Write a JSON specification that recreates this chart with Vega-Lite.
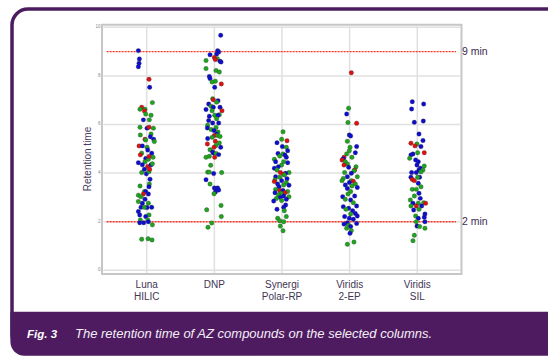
{
  "$schema": "https://vega.github.io/schema/vega-lite/v6.json",
  "width": 548,
  "height": 357,
  "autosize": {"type": "none"},
  "padding": 0,
  "background": "white",
  "config": {"view": {"stroke": null}, "font": "Liberation Sans"},
  "datasets": {
    "pts": [
      {"x":0.877,"y":9.04,"c":"B"},{"x":0.892,"y":8.70,"c":"B"},{"x":0.887,"y":8.52,"c":"B"},{"x":0.877,"y":8.38,"c":"B"},{"x":1.034,"y":7.86,"c":"R"},{"x":1.044,"y":7.53,"c":"B"},{"x":1.084,"y":6.90,"c":"G"},{"x":0.926,"y":6.71,"c":"R"},{"x":0.901,"y":6.63,"c":"G"},{"x":0.975,"y":6.63,"c":"G"},{"x":0.966,"y":6.56,"c":"R"},{"x":1.064,"y":6.38,"c":"G"},{"x":0.985,"y":6.43,"c":"G"},{"x":0.951,"y":6.19,"c":"B"},{"x":1.039,"y":6.19,"c":"G"},{"x":0.901,"y":5.89,"c":"G"},{"x":1.099,"y":5.85,"c":"G"},{"x":1.005,"y":5.85,"c":"B"},{"x":1.034,"y":5.89,"c":"R"},{"x":1.064,"y":5.61,"c":"G"},{"x":0.906,"y":5.57,"c":"G"},{"x":0.975,"y":5.39,"c":"R"},{"x":1.103,"y":5.39,"c":"B"},{"x":0.985,"y":5.36,"c":"G"},{"x":1.054,"y":5.50,"c":"B"},{"x":1.113,"y":5.30,"c":"G"},{"x":0.887,"y":5.12,"c":"R"},{"x":0.936,"y":5.12,"c":"B"},{"x":1.005,"y":5.06,"c":"G"},{"x":1.015,"y":4.95,"c":"B"},{"x":0.926,"y":4.82,"c":"G"},{"x":0.906,"y":4.75,"c":"R"},{"x":1.074,"y":4.82,"c":"B"},{"x":1.094,"y":4.65,"c":"G"},{"x":0.985,"y":4.60,"c":"B"},{"x":1.025,"y":4.57,"c":"G"},{"x":1.034,"y":4.68,"c":"R"},{"x":0.877,"y":4.43,"c":"B"},{"x":0.975,"y":4.47,"c":"G"},{"x":0.936,"y":4.34,"c":"B"},{"x":1.015,"y":4.27,"c":"R"},{"x":1.064,"y":4.34,"c":"B"},{"x":0.926,"y":4.02,"c":"G"},{"x":0.995,"y":3.97,"c":"B"},{"x":1.034,"y":4.06,"c":"G"},{"x":0.966,"y":4.16,"c":"B"},{"x":1.044,"y":4.16,"c":"R"},{"x":1.084,"y":4.38,"c":"G"},{"x":1.049,"y":3.75,"c":"B"},{"x":1.039,"y":3.55,"c":"G"},{"x":1.034,"y":3.44,"c":"B"},{"x":0.901,"y":3.47,"c":"G"},{"x":0.966,"y":3.24,"c":"G"},{"x":0.985,"y":3.24,"c":"B"},{"x":0.951,"y":3.14,"c":"R"},{"x":1.025,"y":3.14,"c":"B"},{"x":0.877,"y":3.09,"c":"G"},{"x":0.916,"y":3.03,"c":"G"},{"x":0.975,"y":2.92,"c":"B"},{"x":0.936,"y":2.76,"c":"B"},{"x":0.877,"y":2.83,"c":"G"},{"x":1.025,"y":2.76,"c":"G"},{"x":0.916,"y":2.59,"c":"B"},{"x":1.005,"y":2.58,"c":"B"},{"x":1.074,"y":2.59,"c":"B"},{"x":0.966,"y":2.59,"c":"G"},{"x":0.877,"y":2.42,"c":"B"},{"x":0.897,"y":2.28,"c":"B"},{"x":1.034,"y":2.28,"c":"G"},{"x":0.985,"y":2.21,"c":"B"},{"x":1.015,"y":2.07,"c":"G"},{"x":1.025,"y":2.00,"c":"B"},{"x":0.906,"y":2.07,"c":"G"},{"x":0.956,"y":1.96,"c":"B"},{"x":1.084,"y":1.87,"c":"G"},{"x":0.897,"y":1.96,"c":"B"},{"x":0.926,"y":1.28,"c":"G"},{"x":1.020,"y":1.30,"c":"G"},{"x":1.079,"y":1.25,"c":"G"},

      {"x":2.094,"y":9.67,"c":"B"},{"x":2.049,"y":9.04,"c":"B"},{"x":2.064,"y":8.98,"c":"B"},{"x":2.034,"y":8.90,"c":"B"},{"x":1.936,"y":8.87,"c":"B"},{"x":2.000,"y":8.76,"c":"R"},{"x":2.044,"y":8.71,"c":"G"},{"x":2.015,"y":8.67,"c":"R"},{"x":1.877,"y":8.63,"c":"G"},{"x":2.084,"y":8.60,"c":"B"},{"x":2.099,"y":8.57,"c":"B"},{"x":1.877,"y":8.30,"c":"G"},{"x":2.025,"y":8.22,"c":"G"},{"x":2.074,"y":8.16,"c":"G"},{"x":1.926,"y":7.98,"c":"B"},{"x":1.936,"y":7.89,"c":"B"},{"x":2.015,"y":7.78,"c":"G"},{"x":1.966,"y":7.75,"c":"G"},{"x":2.103,"y":7.67,"c":"R"},{"x":2.005,"y":7.53,"c":"B"},{"x":1.975,"y":7.06,"c":"G"},{"x":1.985,"y":7.02,"c":"R"},{"x":2.054,"y":6.98,"c":"B"},{"x":2.034,"y":6.92,"c":"G"},{"x":1.916,"y":6.84,"c":"B"},{"x":1.951,"y":6.75,"c":"G"},{"x":1.985,"y":6.71,"c":"B"},{"x":2.084,"y":6.71,"c":"B"},{"x":1.877,"y":6.62,"c":"B"},{"x":1.966,"y":6.57,"c":"G"},{"x":2.113,"y":6.57,"c":"R"},{"x":2.074,"y":6.40,"c":"G"},{"x":2.005,"y":6.38,"c":"G"},{"x":2.054,"y":6.38,"c":"B"},{"x":1.926,"y":6.34,"c":"B"},{"x":2.034,"y":6.24,"c":"G"},{"x":1.916,"y":6.16,"c":"B"},{"x":1.975,"y":6.06,"c":"B"},{"x":2.064,"y":6.06,"c":"B"},{"x":1.901,"y":5.97,"c":"G"},{"x":2.025,"y":5.88,"c":"G"},{"x":1.897,"y":5.86,"c":"B"},{"x":1.951,"y":5.79,"c":"G"},{"x":1.995,"y":5.75,"c":"B"},{"x":2.054,"y":5.69,"c":"G"},{"x":2.034,"y":5.61,"c":"B"},{"x":2.000,"y":5.55,"c":"R"},{"x":2.049,"y":5.55,"c":"G"},{"x":2.084,"y":5.51,"c":"G"},{"x":1.966,"y":5.47,"c":"G"},{"x":1.901,"y":5.42,"c":"B"},{"x":2.015,"y":5.31,"c":"R"},{"x":2.074,"y":5.24,"c":"G"},{"x":1.897,"y":5.20,"c":"R"},{"x":2.025,"y":5.14,"c":"G"},{"x":1.995,"y":5.06,"c":"R"},{"x":2.094,"y":5.06,"c":"B"},{"x":1.936,"y":4.96,"c":"G"},{"x":1.975,"y":4.87,"c":"B"},{"x":1.985,"y":4.83,"c":"B"},{"x":2.025,"y":4.81,"c":"G"},{"x":2.064,"y":4.76,"c":"B"},{"x":1.926,"y":4.69,"c":"G"},{"x":1.877,"y":4.65,"c":"G"},{"x":2.005,"y":4.65,"c":"R"},{"x":1.946,"y":4.32,"c":"G"},{"x":1.901,"y":4.04,"c":"G"},{"x":1.926,"y":4.04,"c":"G"},{"x":1.990,"y":3.98,"c":"B"},{"x":2.108,"y":4.02,"c":"G"},{"x":1.877,"y":3.73,"c":"B"},{"x":1.936,"y":3.55,"c":"G"},{"x":2.000,"y":3.39,"c":"B"},{"x":2.049,"y":3.39,"c":"B"},{"x":2.034,"y":3.36,"c":"B"},{"x":2.064,"y":3.30,"c":"B"},{"x":2.015,"y":3.22,"c":"B"},{"x":1.995,"y":3.15,"c":"G"},{"x":2.099,"y":2.67,"c":"G"},{"x":1.887,"y":2.49,"c":"G"},{"x":2.103,"y":2.21,"c":"G"},{"x":1.961,"y":1.95,"c":"G"},{"x":1.906,"y":1.77,"c":"G"},

      {"x":3.015,"y":5.70,"c":"G"},{"x":2.995,"y":5.39,"c":"G"},{"x":3.074,"y":5.33,"c":"R"},{"x":2.926,"y":5.25,"c":"B"},{"x":3.005,"y":5.09,"c":"B"},{"x":3.064,"y":5.06,"c":"G"},{"x":3.084,"y":4.92,"c":"B"},{"x":2.941,"y":4.81,"c":"B"},{"x":3.015,"y":4.79,"c":"G"},{"x":3.044,"y":4.74,"c":"B"},{"x":2.966,"y":4.70,"c":"G"},{"x":3.064,"y":4.65,"c":"B"},{"x":2.887,"y":4.57,"c":"G"},{"x":2.906,"y":4.47,"c":"B"},{"x":3.025,"y":4.47,"c":"G"},{"x":3.084,"y":4.43,"c":"B"},{"x":2.995,"y":4.33,"c":"G"},{"x":2.946,"y":4.26,"c":"B"},{"x":2.887,"y":4.20,"c":"B"},{"x":2.926,"y":4.13,"c":"G"},{"x":2.975,"y":4.02,"c":"R"},{"x":3.103,"y":4.02,"c":"G"},{"x":3.054,"y":3.99,"c":"B"},{"x":3.020,"y":3.96,"c":"R"},{"x":3.034,"y":3.92,"c":"G"},{"x":2.906,"y":3.85,"c":"B"},{"x":2.966,"y":3.83,"c":"G"},{"x":3.074,"y":3.77,"c":"B"},{"x":2.897,"y":3.72,"c":"G"},{"x":2.995,"y":3.69,"c":"B"},{"x":2.887,"y":3.65,"c":"R"},{"x":3.064,"y":3.61,"c":"G"},{"x":2.936,"y":3.55,"c":"B"},{"x":3.025,"y":3.51,"c":"G"},{"x":3.103,"y":3.50,"c":"B"},{"x":2.956,"y":3.44,"c":"B"},{"x":2.906,"y":3.33,"c":"G"},{"x":2.966,"y":3.28,"c":"R"},{"x":3.015,"y":3.28,"c":"B"},{"x":3.084,"y":3.24,"c":"G"},{"x":2.897,"y":3.19,"c":"B"},{"x":3.044,"y":3.19,"c":"R"},{"x":2.985,"y":3.17,"c":"G"},{"x":2.946,"y":3.10,"c":"G"},{"x":3.025,"y":3.06,"c":"B"},{"x":3.103,"y":3.03,"c":"G"},{"x":2.975,"y":3.00,"c":"B"},{"x":2.916,"y":2.95,"c":"G"},{"x":3.064,"y":2.92,"c":"B"},{"x":2.995,"y":2.87,"c":"G"},{"x":2.877,"y":2.85,"c":"B"},{"x":3.054,"y":2.69,"c":"B"},{"x":3.025,"y":2.59,"c":"B"},{"x":2.926,"y":2.51,"c":"B"},{"x":3.034,"y":2.45,"c":"G"},{"x":3.064,"y":2.21,"c":"G"},{"x":2.936,"y":2.14,"c":"G"},{"x":2.966,"y":2.04,"c":"G"},{"x":3.025,"y":2.00,"c":"G"},{"x":2.975,"y":1.82,"c":"G"},{"x":3.015,"y":1.63,"c":"G"},

      {"x":4.025,"y":8.13,"c":"R"},{"x":3.985,"y":6.67,"c":"G"},{"x":3.956,"y":6.43,"c":"B"},{"x":3.975,"y":6.08,"c":"G"},{"x":4.103,"y":6.05,"c":"R"},{"x":3.995,"y":5.57,"c":"B"},{"x":4.015,"y":5.53,"c":"B"},{"x":3.966,"y":5.31,"c":"G"},{"x":4.005,"y":5.06,"c":"G"},{"x":4.103,"y":5.09,"c":"B"},{"x":3.995,"y":4.92,"c":"G"},{"x":4.084,"y":4.84,"c":"B"},{"x":3.956,"y":4.79,"c":"G"},{"x":4.034,"y":4.65,"c":"G"},{"x":3.916,"y":4.65,"c":"R"},{"x":3.906,"y":4.59,"c":"B"},{"x":3.887,"y":4.54,"c":"R"},{"x":3.936,"y":4.47,"c":"G"},{"x":3.966,"y":4.37,"c":"G"},{"x":3.916,"y":4.33,"c":"R"},{"x":4.094,"y":4.26,"c":"G"},{"x":3.985,"y":4.24,"c":"B"},{"x":4.074,"y":4.13,"c":"R"},{"x":4.064,"y":4.10,"c":"G"},{"x":3.926,"y":4.02,"c":"G"},{"x":4.025,"y":3.99,"c":"B"},{"x":3.966,"y":3.85,"c":"B"},{"x":4.113,"y":3.85,"c":"G"},{"x":3.906,"y":3.78,"c":"G"},{"x":4.025,"y":3.69,"c":"G"},{"x":3.887,"y":3.69,"c":"G"},{"x":4.054,"y":3.66,"c":"R"},{"x":3.995,"y":3.61,"c":"B"},{"x":4.084,"y":3.55,"c":"G"},{"x":3.936,"y":3.51,"c":"B"},{"x":4.034,"y":3.47,"c":"G"},{"x":4.113,"y":3.41,"c":"B"},{"x":3.966,"y":3.37,"c":"B"},{"x":4.015,"y":3.24,"c":"G"},{"x":3.975,"y":3.14,"c":"G"},{"x":4.074,"y":3.06,"c":"B"},{"x":3.897,"y":3.03,"c":"B"},{"x":3.936,"y":2.92,"c":"G"},{"x":4.015,"y":2.89,"c":"B"},{"x":4.054,"y":2.78,"c":"G"},{"x":4.103,"y":2.65,"c":"B"},{"x":3.906,"y":2.62,"c":"B"},{"x":3.985,"y":2.55,"c":"B"},{"x":3.946,"y":2.51,"c":"G"},{"x":4.044,"y":2.45,"c":"B"},{"x":4.084,"y":2.34,"c":"B"},{"x":4.015,"y":2.32,"c":"G"},{"x":4.113,"y":2.23,"c":"B"},{"x":3.926,"y":2.21,"c":"B"},{"x":3.995,"y":2.14,"c":"B"},{"x":4.054,"y":2.10,"c":"B"},{"x":3.966,"y":1.96,"c":"B"},{"x":4.103,"y":1.93,"c":"B"},{"x":3.916,"y":1.90,"c":"B"},{"x":3.985,"y":1.85,"c":"G"},{"x":4.015,"y":1.80,"c":"B"},{"x":3.956,"y":1.73,"c":"G"},{"x":4.025,"y":1.63,"c":"G"},{"x":4.005,"y":1.52,"c":"B"},{"x":4.064,"y":1.16,"c":"G"},{"x":3.966,"y":1.07,"c":"G"},

      {"x":4.926,"y":6.94,"c":"B"},{"x":5.094,"y":6.84,"c":"B"},{"x":4.916,"y":6.64,"c":"B"},{"x":5.089,"y":6.14,"c":"B"},{"x":4.956,"y":6.09,"c":"B"},{"x":5.025,"y":5.61,"c":"B"},{"x":5.084,"y":5.34,"c":"B"},{"x":4.906,"y":5.23,"c":"R"},{"x":4.995,"y":5.20,"c":"G"},{"x":4.966,"y":5.12,"c":"R"},{"x":5.054,"y":5.09,"c":"B"},{"x":5.005,"y":4.84,"c":"G"},{"x":5.103,"y":4.84,"c":"R"},{"x":4.936,"y":4.79,"c":"B"},{"x":4.906,"y":4.75,"c":"B"},{"x":4.887,"y":4.61,"c":"G"},{"x":4.975,"y":4.54,"c":"B"},{"x":5.015,"y":4.47,"c":"B"},{"x":4.995,"y":4.33,"c":"B"},{"x":5.103,"y":4.29,"c":"G"},{"x":5.044,"y":4.20,"c":"B"},{"x":5.025,"y":4.13,"c":"B"},{"x":5.084,"y":4.13,"c":"G"},{"x":5.054,"y":4.05,"c":"G"},{"x":4.916,"y":4.02,"c":"B"},{"x":4.985,"y":4.02,"c":"B"},{"x":5.034,"y":3.83,"c":"B"},{"x":4.906,"y":3.83,"c":"B"},{"x":5.005,"y":3.83,"c":"G"},{"x":4.926,"y":3.74,"c":"R"},{"x":4.956,"y":3.69,"c":"R"},{"x":5.015,"y":3.58,"c":"B"},{"x":5.054,"y":3.44,"c":"G"},{"x":4.926,"y":3.33,"c":"G"},{"x":4.985,"y":3.33,"c":"G"},{"x":5.025,"y":3.17,"c":"B"},{"x":4.956,"y":3.06,"c":"G"},{"x":5.044,"y":2.96,"c":"B"},{"x":4.897,"y":2.89,"c":"G"},{"x":5.094,"y":2.78,"c":"G"},{"x":4.936,"y":2.76,"c":"B"},{"x":5.015,"y":2.76,"c":"G"},{"x":5.123,"y":2.76,"c":"R"},{"x":4.985,"y":2.65,"c":"R"},{"x":5.064,"y":2.65,"c":"B"},{"x":4.906,"y":2.65,"c":"G"},{"x":5.025,"y":2.51,"c":"G"},{"x":4.946,"y":2.48,"c":"B"},{"x":5.113,"y":2.32,"c":"B"},{"x":4.975,"y":2.23,"c":"G"},{"x":5.103,"y":2.18,"c":"B"},{"x":5.015,"y":2.14,"c":"B"},{"x":4.985,"y":2.00,"c":"G"},{"x":5.113,"y":2.00,"c":"B"},{"x":4.995,"y":1.82,"c":"B"},{"x":5.034,"y":1.80,"c":"G"},{"x":5.113,"y":1.73,"c":"G"},{"x":4.956,"y":1.44,"c":"G"},{"x":4.936,"y":1.22,"c":"G"}
    ]
  },
  "layer": [
    {
      "data": {"values": [{}]},
      "mark": {"type": "rect", "fill": "white", "stroke": "#4b1c5e", "strokeWidth": 3.5, "cornerRadius": 16},
      "encoding": {
        "x": {"datum": -0.991, "scale": {"type": "linear", "domain": [-1.1685, 6.932], "nice": false, "zero": false}, "axis": null},
        "x2": {"datum": 8.5},
        "y": {"datum": 10.753, "scale": {"type": "linear", "domain": [-3.568, 11.123], "nice": false, "zero": false}, "axis": null},
        "y2": {"datum": -3.3}
      }
    },
    {
      "data": {"values": [{}]},
      "mark": {"type": "rect", "fill": "#4e1b60", "cornerRadiusBottomLeft": 14},
      "encoding": {
        "x": {"datum": -1.0148, "scale": {"type": "linear", "domain": [-1.1685, 6.932], "nice": false, "zero": false}, "axis": null},
        "x2": {"datum": 8.5},
        "y": {"datum": -1.704, "scale": {"type": "linear", "domain": [-3.568, 11.123], "nice": false, "zero": false}, "axis": null},
        "y2": {"datum": -3.515}
      }
    },
    {
      "data": {"values": [{}]},
      "mark": {"type": "rect", "fill": "white", "stroke": "#c6c6c6", "strokeWidth": 2},
      "encoding": {
        "x": {"datum": 0.339, "scale": {"type": "linear", "domain": [-1.1685, 6.932], "nice": false, "zero": false}, "axis": null},
        "x2": {"datum": 5.653},
        "y": {"datum": 10.107, "scale": {"type": "linear", "domain": [-3.568, 11.123], "nice": false, "zero": false}, "axis": null},
        "y2": {"datum": -0.152}
      }
    },
    {
      "data": {"values": [{"v": 0}, {"v": 2}, {"v": 4}, {"v": 6}, {"v": 8}, {"v": 10}]},
      "mark": {"type": "rule", "stroke": "#e0e0e0", "strokeWidth": 1.5},
      "encoding": {
        "x": {"datum": 0.36, "scale": {"type": "linear", "domain": [-1.1685, 6.932], "nice": false, "zero": false}, "axis": null},
        "x2": {"datum": 5.638},
        "y": {"field": "v", "type": "quantitative", "scale": {"type": "linear", "domain": [-3.568, 11.123], "nice": false, "zero": false}, "axis": null}
      }
    },
    {
      "data": {"values": [{"v": 1}, {"v": 2}, {"v": 3}, {"v": 4}, {"v": 5}]},
      "mark": {"type": "rule", "stroke": "#e0e0e0", "strokeWidth": 1.5},
      "encoding": {
        "x": {"field": "v", "type": "quantitative", "scale": {"type": "linear", "domain": [-1.1685, 6.932], "nice": false, "zero": false}, "axis": null},
        "y": {"datum": -0.11, "scale": {"type": "linear", "domain": [-3.568, 11.123], "nice": false, "zero": false}, "axis": null},
        "y2": {"datum": 10.07}
      }
    },
    {
      "data": {"values": [{"v": 9}, {"v": 2}]},
      "mark": {"type": "rule", "stroke": "#ff3322", "strokeWidth": 1.4, "strokeDash": [2, 1]},
      "encoding": {
        "x": {"datum": 0.4073, "scale": {"type": "linear", "domain": [-1.1685, 6.932], "nice": false, "zero": false}, "axis": null},
        "x2": {"datum": 5.572},
        "y": {"field": "v", "type": "quantitative", "scale": {"type": "linear", "domain": [-3.568, 11.123], "nice": false, "zero": false}, "axis": null}
      }
    },
    {
      "data": {"name": "pts"},
      "mark": {"type": "point", "filled": true, "size": 20, "opacity": 1, "stroke": "#333333", "strokeWidth": 0.3},
      "encoding": {
        "x": {"field": "x", "type": "quantitative", "scale": {"type": "linear", "domain": [-1.1685, 6.932], "nice": false, "zero": false}, "axis": null},
        "y": {"field": "y", "type": "quantitative", "scale": {"type": "linear", "domain": [-3.568, 11.123], "nice": false, "zero": false}, "axis": null},
        "color": {"field": "c", "type": "nominal", "scale": {"domain": ["B", "G", "R"], "range": ["#0c0cd2", "#1ea51e", "#e01010"]}, "legend": null}
      }
    },
    {
      "data": {"values": [{"v": 0}, {"v": 2}, {"v": 4}, {"v": 6}, {"v": 8}, {"v": 10}]},
      "mark": {"type": "text", "align": "right", "baseline": "middle", "fontSize": 4.5, "color": "#888888"},
      "encoding": {
        "x": {"datum": 0.317, "scale": {"type": "linear", "domain": [-1.1685, 6.932], "nice": false, "zero": false}, "axis": null},
        "y": {"field": "v", "type": "quantitative", "scale": {"type": "linear", "domain": [-3.568, 11.123], "nice": false, "zero": false}, "axis": null},
        "text": {"field": "v", "type": "quantitative"}
      }
    },
    {
      "data": {"values": [{"v": 9, "t": "9 min"}, {"v": 2, "t": "2 min"}]},
      "mark": {"type": "text", "align": "left", "baseline": "middle", "fontSize": 10.5, "color": "#3a2a52"},
      "encoding": {
        "x": {"datum": 5.66, "scale": {"type": "linear", "domain": [-1.1685, 6.932], "nice": false, "zero": false}, "axis": null},
        "y": {"field": "v", "type": "quantitative", "scale": {"type": "linear", "domain": [-3.568, 11.123], "nice": false, "zero": false}, "axis": null},
        "text": {"field": "t", "type": "nominal"}
      }
    },
    {
      "data": {"values": [{"p": 1, "t": "Luna\nHILIC"}, {"p": 2, "t": "DNP"}, {"p": 3, "t": "Synergi\nPolar-RP"}, {"p": 4, "t": "Viridis\n2-EP"}, {"p": 5, "t": "Viridis\nSIL"}]},
      "mark": {"type": "text", "align": "center", "baseline": "top", "fontSize": 10, "lineHeight": 12.5, "lineBreak": "\n", "color": "#3f3552"},
      "encoding": {
        "x": {"field": "p", "type": "quantitative", "scale": {"type": "linear", "domain": [-1.1685, 6.932], "nice": false, "zero": false}, "axis": null},
        "y": {"datum": -0.379, "scale": {"type": "linear", "domain": [-3.568, 11.123], "nice": false, "zero": false}, "axis": null},
        "text": {"field": "t", "type": "nominal"}
      }
    },
    {
      "data": {"values": [{}]},
      "mark": {"type": "text", "align": "center", "baseline": "middle", "angle": 270, "fontSize": 10, "color": "#4a3c63", "text": "Retention time"},
      "encoding": {
        "x": {"datum": 0.125, "scale": {"type": "linear", "domain": [-1.1685, 6.932], "nice": false, "zero": false}, "axis": null},
        "y": {"datum": 4.58, "scale": {"type": "linear", "domain": [-3.568, 11.123], "nice": false, "zero": false}, "axis": null}
      }
    },
    {
      "data": {"values": [{}]},
      "mark": {"type": "text", "align": "left", "baseline": "alphabetic", "fontSize": 11.5, "fontWeight": "bold", "fontStyle": "italic", "color": "#ffffff", "text": "Fig. 3"},
      "encoding": {
        "x": {"datum": -0.7694, "scale": {"type": "linear", "domain": [-1.1685, 6.932], "nice": false, "zero": false}, "axis": null},
        "y": {"datum": -2.766, "scale": {"type": "linear", "domain": [-3.568, 11.123], "nice": false, "zero": false}, "axis": null}
      }
    },
    {
      "data": {"values": [{}]},
      "mark": {"type": "text", "align": "left", "baseline": "alphabetic", "fontSize": 13, "fontStyle": "italic", "color": "#f4eef6", "text": "The retention time of AZ compounds on the selected columns."},
      "encoding": {
        "x": {"datum": -0.0598, "scale": {"type": "linear", "domain": [-1.1685, 6.932], "nice": false, "zero": false}, "axis": null},
        "y": {"datum": -2.766, "scale": {"type": "linear", "domain": [-3.568, 11.123], "nice": false, "zero": false}, "axis": null}
      }
    }
  ]
}
